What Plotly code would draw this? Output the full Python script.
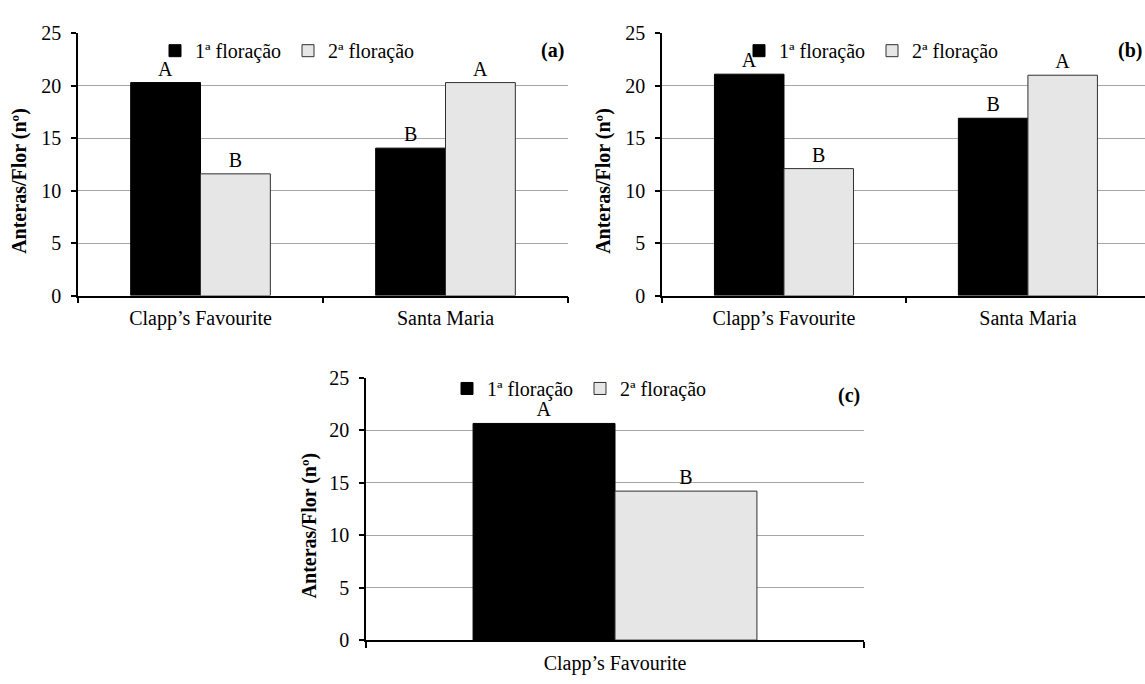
import plotly.graph_objects as go

# ---- data -------------------------------------------------------------
series_names = ["1ª floração", "2ª floração"]
cultivars_ab = ["Clapp’s Favourite", "Santa Maria"]
cultivars_c = ["Clapp’s Favourite"]

# (a)
a_first = [20.3, 14.05]
a_second = [11.6, 20.3]
a_first_letters = ["A", "B"]
a_second_letters = ["B", "A"]

# (b)
b_first = [21.1, 16.9]
b_second = [12.1, 21.0]
b_first_letters = ["A", "B"]
b_second_letters = ["B", "A"]

# (c)
c_first = [20.65]
c_second = [14.2]
c_first_letters = ["A"]
c_second_letters = ["B"]

y_ticks = [0, 5, 10, 15, 20, 25]
y_title = "Anteras/Flor (nº)"

# ---- styling ----------------------------------------------------------
W, H = 1145, 684
FONT = "Liberation Serif"
FS = 20
DARK = "#000000"
LIGHT = "#e7e6e6"


def px_x(p):
    return p / W


def px_y(p):
    return 1 - p / H


panels = [
    dict(tag="(a)", cats=cultivars_ab, first=a_first, second=a_second,
         lf=a_first_letters, ls=a_second_letters, ax="", lg="legend",
         xdom=[78, 568], ytop=23, ybot=294, xr=[-0.5, 1.5],
         leg_x=155, leg_y=41, title_x=20, tag_x=566),
    dict(tag="(b)", cats=cultivars_ab, first=b_first, second=b_second,
         lf=b_first_letters, ls=b_second_letters, ax="2", lg="legend2",
         xdom=[662, 1145], ytop=23, ybot=294, xr=[-0.5, 1.48],
         leg_x=739, leg_y=41, title_x=604, tag_x=1144),
    dict(tag="(c)", cats=cultivars_c, first=c_first, second=c_second,
         lf=c_first_letters, ls=c_second_letters, ax="3", lg="legend3",
         xdom=[366, 864], ytop=379, ybot=650, xr=[-0.5, 0.5],
         leg_x=447, leg_y=390, title_x=309, tag_x=862),
]

fig = go.Figure()
annotations = []
layout_axes = {}
legends = {}

for p in panels:
    xa, ya = "x" + p["ax"], "y" + p["ax"]
    for name, vals, letters, color, line in [
        (series_names[0], p["first"], p["lf"], DARK, DARK),
        (series_names[1], p["second"], p["ls"], LIGHT, "#303030"),
    ]:
        fig.add_trace(go.Bar(
            x=p["cats"], y=vals, name=name, text=letters,
            textposition="outside", cliponaxis=False,
            textfont=dict(family=FONT, size=FS, color="black"),
            marker=dict(color=color, line=dict(color=line, width=1)),
            xaxis=xa, yaxis=ya, legend=p["lg"], hoverinfo="x+y",
        ))

    layout_axes["xaxis" + p["ax"]] = dict(
        domain=[px_x(p["xdom"][0]), min(1.0, px_x(p["xdom"][1]))],
        anchor=ya, type="category", range=p["xr"],
        showline=True, linecolor="black", linewidth=1.5,
        ticks="outside", tickson="boundaries", ticklen=6,
        tickcolor="black", tickwidth=1.5, showgrid=False,
        tickfont=dict(family=FONT, size=FS, color="black"),
        ticklabelstandoff=4,
    )
    layout_axes["yaxis" + p["ax"]] = dict(
        domain=[px_y(p["ybot"]), px_y(p["ytop"])],
        anchor=xa, range=[0, 25], tickvals=y_ticks,
        showline=True, linecolor="black", linewidth=1.5,
        ticks="outside", ticklen=5, tickcolor="black", tickwidth=1.5,
        showgrid=True, gridcolor="#a6a6a6", gridwidth=1, zeroline=False,
        tickfont=dict(family=FONT, size=FS, color="black"),
        ticklabelstandoff=6,
    )
    legends[p["lg"]] = dict(
        orientation="h", x=px_x(p["leg_x"]), y=px_y(p["leg_y"]),
        xanchor="left", yanchor="middle", bgcolor="rgba(0,0,0,0)",
        font=dict(family=FONT, size=FS, color="black"),
        traceorder="normal", itemwidth=30, entrywidth=88,
    )
    mid = (p["ytop"] + p["ybot"]) / 2 + 17
    annotations.append(dict(
        text="<b>" + y_title + "</b>", xref="paper", yref="paper",
        x=px_x(p["title_x"]), y=px_y(mid), textangle=-90,
        showarrow=False, xanchor="center", yanchor="middle",
        font=dict(family=FONT, size=FS, color="black"),
    ))
    annotations.append(dict(
        text="<b>" + p["tag"] + "</b>", xref="paper", yref="paper",
        x=px_x(p["tag_x"]), y=px_y(p["ytop"] + 18),
        showarrow=False, xanchor="right", yanchor="middle",
        font=dict(family=FONT, size=FS, color="black"),
    ))

fig.update_layout(
    width=W, height=H, autosize=False,
    margin=dict(l=0, r=0, t=0, b=0),
    font=dict(family=FONT, size=FS, color="black"),
    paper_bgcolor="white", plot_bgcolor="white",
    barmode="group", bargap=0.43, bargroupgap=0,
    annotations=annotations,
    **layout_axes, **legends,
)

fig.write_html("out.html")
